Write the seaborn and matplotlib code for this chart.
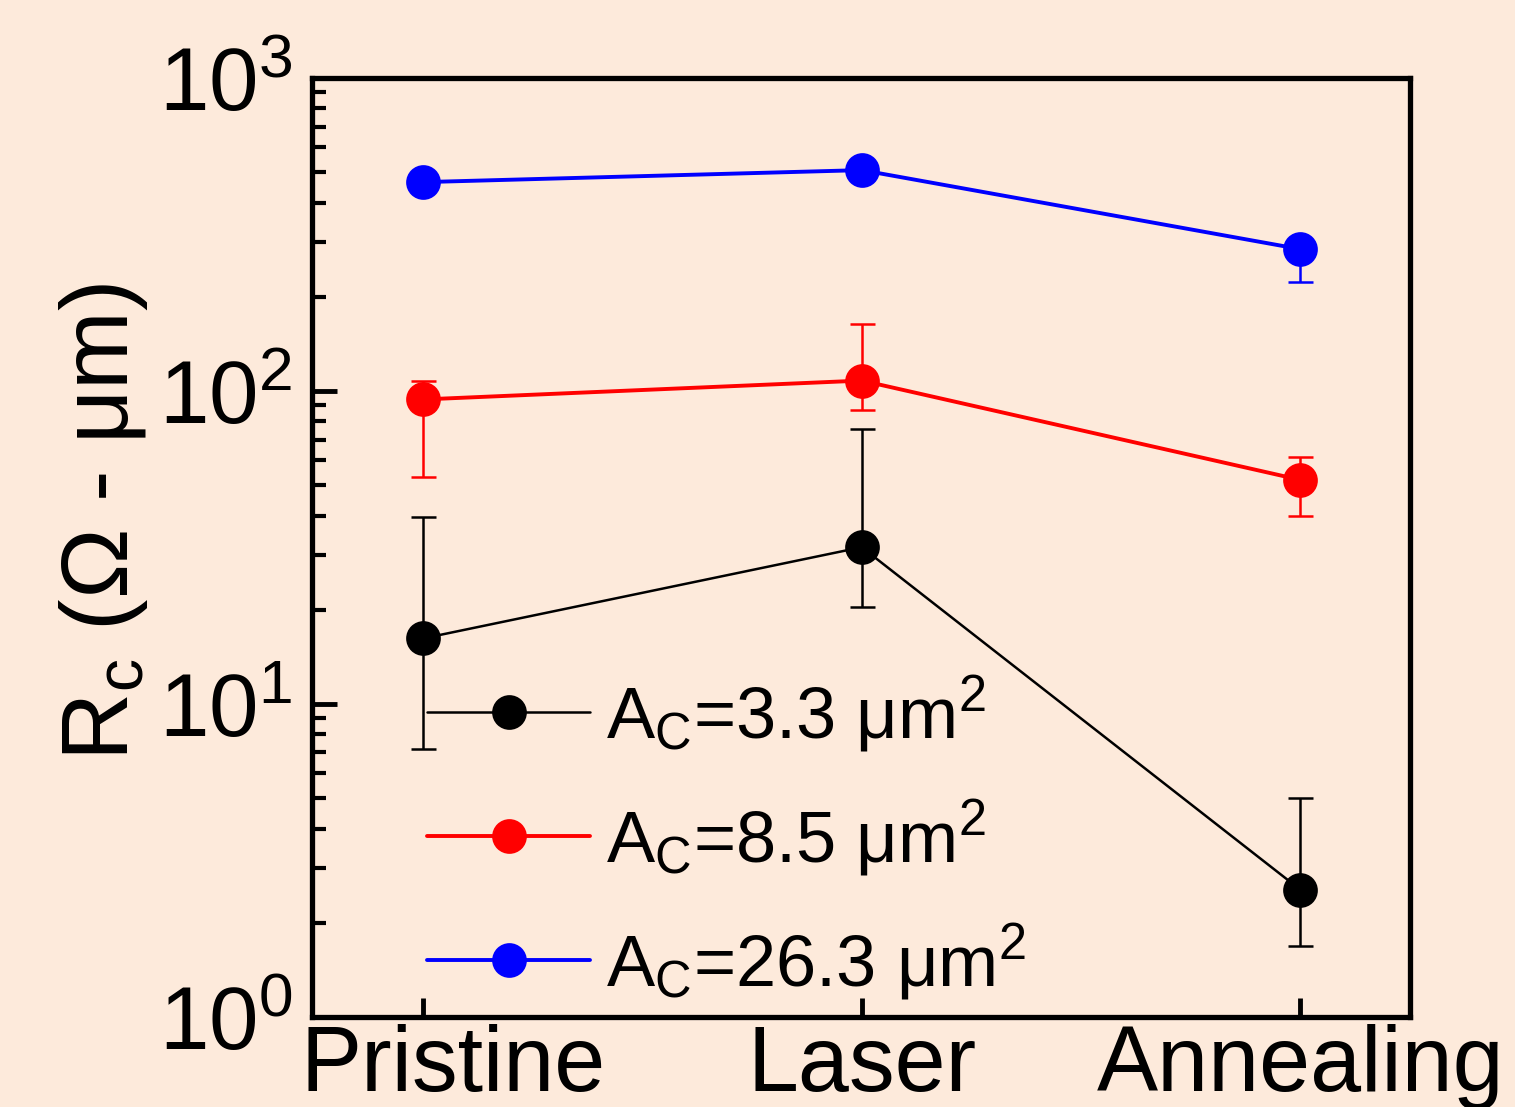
import matplotlib
matplotlib.use("Agg")
import matplotlib.pyplot as plt
import matplotlib.ticker as mticker
import matplotlib.transforms as mtransforms
import seaborn as sns
import pandas as pd
import numpy as np

# ---- data ----
categories = ["Pristine", "Laser", "Annealing"]
labels = [r"$\mathregular{A_C}$=3.3 μm$\mathregular{^2}$",
          r"$\mathregular{A_C}$=8.5 μm$\mathregular{^2}$",
          r"$\mathregular{A_C}$=26.3 μm$\mathregular{^2}$"]
rc_3p3 = [16.2, 31.7, 2.55]
rc_3p3_low = [7.2, 20.4, 1.69]
rc_3p3_high = [39.6, 75.6, 5.0]
rc_8p5 = [94.0, 108.0, 52.0]
rc_8p5_low = [53.0, 87.0, 40.0]
rc_8p5_high = [108.0, 164.0, 61.5]
rc_26p3 = [465.0, 508.0, 284.0]
rc_26p3_low = [465.0, 508.0, 223.0]
rc_26p3_high = [465.0, 508.0, 300.0]
colors = ["#000000", "#FF0000", "#0000FF"]

bg = "#FDEADB"
sns.set_theme(style="ticks")
plt.rcParams["font.family"] = ["Liberation Sans", "DejaVu Sans"]
plt.rcParams["mathtext.fontset"] = "custom"
plt.rcParams["mathtext.rm"] = "Liberation Sans"
plt.rcParams["mathtext.it"] = "Liberation Sans:italic"
for k in ["text.color", "axes.labelcolor", "xtick.color", "ytick.color",
          "axes.edgecolor"]:
    plt.rcParams[k] = "black"

fig = plt.figure(figsize=(15.15, 11.07), dpi=100, facecolor=bg)
ax = fig.add_axes([0.206, 0.0813, 0.725, 0.8482])
ax.set_facecolor(bg)

series = [(rc_3p3, rc_3p3_low, rc_3p3_high, 1.8),
          (rc_8p5, rc_8p5_low, rc_8p5_high, 2.8),
          (rc_26p3, rc_26p3_low, rc_26p3_high, 2.8)]

for (vals, lo, hi, lw), lab, c in zip(series, labels, colors):
    df = pd.DataFrame({"x": categories, "y": vals})
    v = np.array(vals); l = np.array(lo); h = np.array(hi)
    ax.errorbar(categories, vals, yerr=[v - l, h - v], fmt="none",
                ecolor=c, elinewidth=1.8, capsize=9, capthick=1.8, zorder=2)
    sns.lineplot(data=df, x="x", y="y", ax=ax, color=c, linewidth=lw,
                 marker="o", markersize=25, markeredgewidth=0,
                 label=lab, sort=False, zorder=3)

ax.set_yscale("log")
ax.set_ylim(1, 1000)
ax.set_xlim(-0.253, 2.251)

ax.yaxis.set_major_locator(mticker.LogLocator(base=10, numticks=10))
ax.yaxis.set_minor_locator(mticker.LogLocator(base=10, subs=np.arange(2, 10), numticks=10))
ax.yaxis.set_major_formatter(mticker.FuncFormatter(
    lambda v, p: r"$\mathregular{10^{%d}}$" % int(round(np.log10(v)))))
ax.yaxis.set_minor_formatter(mticker.NullFormatter())

ax.tick_params(axis="y", which="major", direction="in", length=18, width=3.5,
               labelsize=64, pad=14, right=False)
ax.tick_params(axis="y", which="minor", direction="in", length=10, width=3.0, right=False)
ax.tick_params(axis="x", which="major", direction="in", length=14, width=3.5,
               labelsize=66, pad=5, top=False)
ax.tick_params(axis="x", which="minor", bottom=False, top=False)

for s in ax.spines.values():
    s.set_linewidth(3.8)
    s.set_color("black")

ax.set_xlabel("")
ax.set_ylabel(r"$\mathregular{R_c}$ (Ω - μm)", fontsize=68)
ax.yaxis.set_label_coords(-0.148, 0.527)

# first category label sits a little right of its tick in the reference
fig.canvas.draw()
xt = ax.get_xticklabels()
xt[0].set_transform(xt[0].get_transform() +
                    mtransforms.ScaledTranslation(0.30, 0, fig.dpi_scale_trans))

leg = ax.legend(loc="lower left", bbox_to_anchor=(0.105, 0.016), frameon=False,
                fontsize=52, handlelength=2.25, handletextpad=0.22,
                labelspacing=0.6, borderpad=0, borderaxespad=0.0)

fig.savefig("out.png", dpi=100, facecolor=bg)
